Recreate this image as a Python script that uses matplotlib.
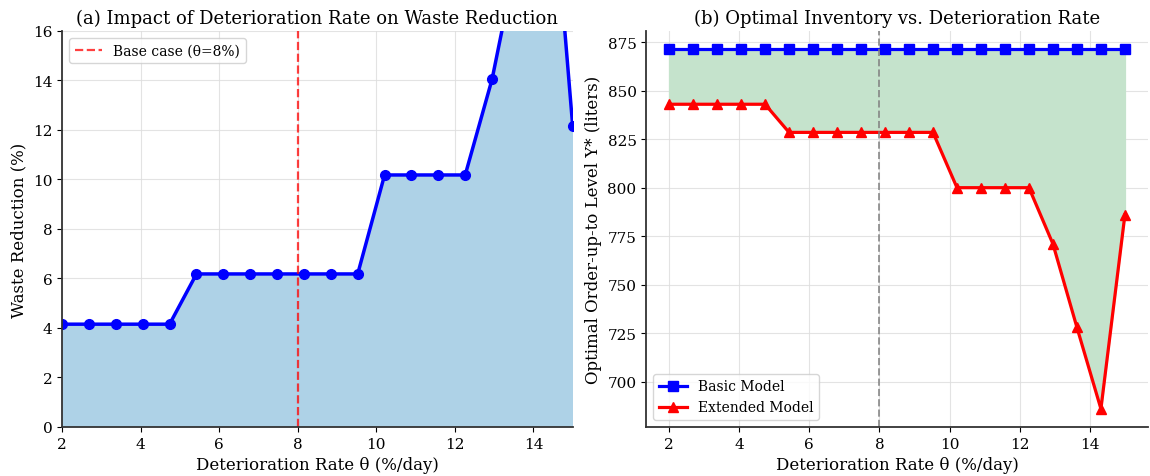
import matplotlib
matplotlib.use('Agg')
import matplotlib.pyplot as plt
import numpy as np

# deterioration rates (%/day), 20 evenly spaced cases from 2 to 15
theta = np.linspace(2, 15, 20)

# waste reduction of extended vs basic model (%)
waste_reduction = [4.15, 4.15, 4.15, 4.15, 4.15,
                   6.18, 6.18, 6.18, 6.18, 6.18, 6.18, 6.18,
                   10.18, 10.18, 10.18, 10.18,
                   14.05, 19.4, 25.3, 12.15]

# optimal order-up-to level Y* (liters)
y_basic = [871.5] * 20
y_extended = [843, 843, 843, 843, 843,
              828.5, 828.5, 828.5, 828.5, 828.5, 828.5, 828.5,
              800, 800, 800, 800,
              771, 728, 686, 786]

base_theta = 8

plt.rcParams['font.family'] = 'DejaVu Serif'

fig = plt.figure(figsize=(11.5, 4.77), dpi=100)
ax1 = fig.add_axes([0.054, 0.103, 0.444, 0.830])
ax2 = fig.add_axes([0.562, 0.103, 0.436, 0.830])

# --- left panel: waste reduction ---
ax1.fill_between(theta, waste_reduction, color='#aed2e7')
ax1.plot(theta, waste_reduction, 'o-', color='blue', lw=2.5, ms=7)
ax1.axvline(base_theta, color='red', ls='--', lw=1.6, alpha=0.75,
            label='Base case (θ=8%)')
ax1.set_xlim(2, 15)
ax1.set_ylim(0, 16)
ax1.set_xlabel('Deterioration Rate θ (%/day)', fontsize=12)
ax1.set_ylabel('Waste Reduction (%)', fontsize=12)
ax1.set_title('(a) Impact of Deterioration Rate on Waste Reduction', fontsize=13)
ax1.legend(loc='upper left', fontsize=10)

# --- right panel: optimal inventory ---
ax2.fill_between(theta, y_extended, y_basic, color='#c5e3cc')
ax2.plot(theta, y_basic, 's-', color='blue', lw=2.3, ms=7.5, label='Basic Model')
ax2.plot(theta, y_extended, '^-', color='red', lw=2.3, ms=7.5, label='Extended Model')
ax2.axvline(base_theta, color='gray', ls='--', lw=1.4, alpha=0.8)
ax2.set_xlabel('Deterioration Rate θ (%/day)', fontsize=12)
ax2.set_ylabel('Optimal Order-up-to Level Y* (liters)', fontsize=12)
ax2.set_title('(b) Optimal Inventory vs. Deterioration Rate', fontsize=13)
ax2.legend(loc='lower left', fontsize=10)

for ax in (ax1, ax2):
    ax.grid(True, color='#dddddd', lw=0.8, alpha=0.8)
    ax.set_axisbelow(True)
    ax.spines['top'].set_visible(False)
    ax.spines['right'].set_visible(False)
    ax.spines['left'].set_linewidth(1.3)
    ax.spines['bottom'].set_linewidth(1.3)
    ax.spines['left'].set_color('#333333')
    ax.spines['bottom'].set_color('#333333')
    ax.tick_params(labelsize=11)

fig.savefig('out.png', dpi=100)
